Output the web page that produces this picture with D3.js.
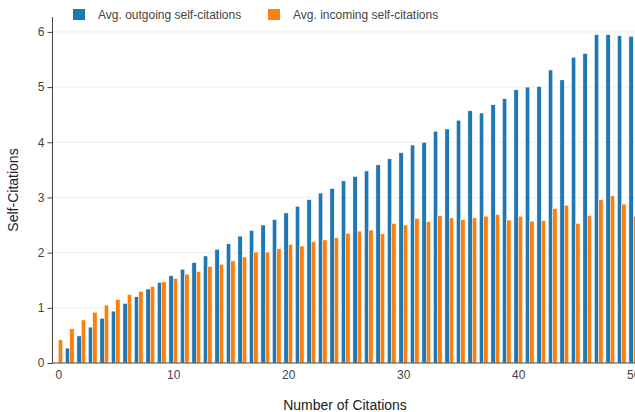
<!DOCTYPE html>
<html><head><meta charset="utf-8">
<script src="https://cdn.jsdelivr.net/npm/d3@7"></script>
<style>body{margin:0;background:#fff;}svg{display:block;font-family:"Liberation Sans",Arial,sans-serif;}</style>
</head><body><svg id="c" width="635" height="412"></svg>
<script>
const citations = d3.range(0, 51);
const outgoing = [0.0,0.27,0.49,0.65,0.81,0.94,1.08,1.20,1.34,1.46,1.58,1.70,1.82,1.94,2.06,2.16,2.30,2.40,2.50,2.60,2.72,2.84,2.96,3.08,3.16,3.30,3.38,3.48,3.59,3.70,3.81,3.95,4.00,4.20,4.24,4.40,4.57,4.53,4.68,4.79,4.95,5.00,5.01,5.31,5.13,5.54,5.61,5.95,5.95,5.93,5.92];
const incoming = [0.42,0.62,0.78,0.92,1.05,1.15,1.24,1.30,1.39,1.47,1.53,1.61,1.66,1.75,1.79,1.85,1.92,2.01,2.01,2.07,2.15,2.12,2.20,2.23,2.27,2.35,2.39,2.41,2.34,2.53,2.50,2.62,2.56,2.67,2.63,2.60,2.63,2.66,2.69,2.59,2.66,2.57,2.58,2.80,2.86,2.53,2.67,2.96,3.03,2.88,2.66];
const yTicks = [0,1,2,3,4,5,6];
const xTicks = [0,10,20,30,40,50];
const seriesNames = ["Avg. outgoing self-citations","Avg. incoming self-citations"];
const colors = ["#1f77b4","#ff7f0e"];

const svg = d3.select("#c");
const mLeft = 52.5, mRight = 639, mTop = 17, mBottom = 363;
const x = d3.scaleLinear().domain([-0.5, 50.5]).range([mLeft, mRight]);
const y = d3.scaleLinear().domain([0, 6.27]).range([mBottom, mTop]);
const groupW = 8.7, barW = groupW/2;

// grid
svg.append("g").selectAll("line").data(yTicks.slice(1)).join("line")
  .attr("x1", mLeft).attr("x2", 635).attr("y1", d=>y(d)).attr("y2", d=>y(d))
  .attr("stroke", "#eeeeee").attr("stroke-width", 1);

const data = [outgoing, incoming];
data.forEach((vals, si) => {
  svg.append("g").selectAll("rect").data(citations).join("rect")
    .attr("x", d => x(d) - groupW/2 + si*barW)
    .attr("width", barW)
    .attr("y", (d,i) => y(vals[i]))
    .attr("height", (d,i) => mBottom - y(vals[i]))
    .attr("fill", colors[si])
    .attr("stroke", "#ffffff").attr("stroke-width", 0.5);
});

// y axis
const ya = svg.append("g").attr("transform", `translate(${mLeft},0)`)
  .call(d3.axisLeft(y).tickValues(yTicks).tickSize(5).tickPadding(3).tickFormat(d3.format("d")));
ya.select(".domain").attr("stroke", "#444").attr("d", `M0,${mTop}V${mBottom}`);
ya.selectAll(".tick line").attr("stroke", "#444");
ya.selectAll("text").attr("fill", "#444").attr("font-size", 12).attr("font-family", "Liberation Sans, Arial, sans-serif");

// x axis
const xa = svg.append("g").attr("transform", `translate(0,${mBottom})`)
  .call(d3.axisBottom(x).tickValues(xTicks).tickSize(0).tickPadding(7));
xa.select(".domain").attr("stroke", "#444").attr("d", `M${mLeft},0H635`);
xa.selectAll("text").attr("fill", "#444").attr("font-size", 12).attr("font-family", "Liberation Sans, Arial, sans-serif");

// titles
svg.append("text").attr("x", 345).attr("y", 410).attr("text-anchor", "middle")
  .attr("font-size", 14).attr("fill", "#222").text("Number of Citations");
svg.append("text").attr("transform", "translate(18,190) rotate(-90)").attr("text-anchor", "middle")
  .attr("font-size", 14).attr("fill", "#222").text("Self-Citations");

// legend
const legX = [73, 268];
seriesNames.forEach((n, i) => {
  const g = svg.append("g").attr("transform", `translate(${legX[i]},9)`);
  g.append("rect").attr("width", 12).attr("height", 11).attr("fill", colors[i]);
  g.append("text").attr("x", 25).attr("y", 10).attr("font-size", 12).attr("fill", "#444").text(n);
});
</script></body></html>
